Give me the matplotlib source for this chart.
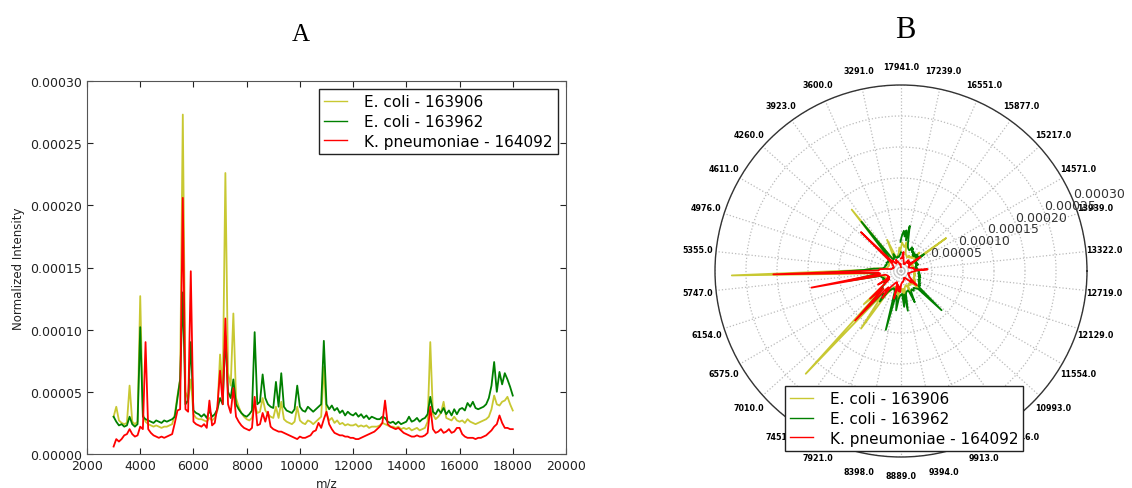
import numpy as np
import matplotlib
matplotlib.use("Agg")
import matplotlib.pyplot as plt
from matplotlib.ticker import FormatStrFormatter, MultipleLocator

# ---------------- data (intensities in units of 1e-5) ----------------
mz = np.arange(3000, 18001, 100)

ecoli_163906 = [
    3.0, 3.8, 2.7, 2.5, 2.4, 2.5, 5.5, 2.6, 2.4, 2.6,
    12.7, 3.2, 2.6, 2.4, 2.3, 2.2, 2.3, 2.2, 2.1, 2.2,
    2.2, 2.3, 2.4, 3.2, 4.7, 6.0, 27.3, 5.0, 4.4, 6.0,
    3.2, 2.9, 2.8, 2.8, 2.7, 2.6, 2.9, 2.7, 2.9, 3.5,
    8.0, 5.0, 22.6, 6.5, 5.5, 11.3, 4.5, 3.8, 3.3, 3.0,
    2.8, 2.7, 2.9, 4.0, 3.3, 3.4, 4.5, 3.5, 3.2, 3.0,
    2.9, 3.8, 2.9, 4.2, 2.8, 2.6, 2.5, 2.4, 2.6, 3.8,
    2.7, 2.5, 2.4, 2.7, 2.6, 2.4, 2.6, 2.8, 3.0, 7.0,
    3.2, 2.7, 2.9, 2.5, 2.7, 2.4, 2.5, 2.3, 2.4, 2.3,
    2.3, 2.4, 2.2, 2.3, 2.2, 2.3, 2.1, 2.2, 2.2, 2.2,
    2.3, 2.5, 2.4, 2.3, 2.2, 2.2, 2.1, 2.2, 2.0, 2.1,
    2.0, 2.1, 1.9, 2.0, 2.1, 1.9, 2.0, 2.1, 2.6, 9.0,
    3.2, 2.8, 3.0, 3.3, 4.2, 2.9, 2.8, 2.7, 3.0, 2.7,
    2.6, 2.7, 2.5, 2.8, 2.6, 2.5, 2.4, 2.5, 2.6, 2.7,
    2.8, 3.0, 3.6, 4.7, 4.0, 3.9, 4.2, 4.3, 4.6, 4.0,
    3.5,
]

ecoli_163962 = [
    3.0, 2.6, 2.3, 2.4, 2.2, 2.3, 3.0, 2.4, 2.2, 2.4,
    10.2, 3.0, 2.8, 2.7, 2.6, 2.5, 2.7, 2.6, 2.5, 2.7,
    2.6, 2.7, 2.8, 3.0, 4.5, 6.0, 13.0, 4.0, 4.3, 9.0,
    3.5, 3.3, 3.2, 3.0, 3.2, 2.9, 3.5, 3.0, 3.2, 3.6,
    4.5, 4.0, 9.5, 5.0, 4.5, 6.0, 4.0, 3.6, 3.3, 3.1,
    3.0, 3.2, 3.5, 9.8, 4.0, 4.2, 6.4, 4.5, 4.0, 3.8,
    3.7, 5.8, 3.8, 6.5, 3.8, 3.5, 3.4, 3.3, 3.6, 5.5,
    3.8, 3.5, 3.4, 3.8, 3.6, 3.4, 3.6, 3.8, 4.0, 9.1,
    4.0, 3.6, 3.9, 3.5, 3.7, 3.3, 3.5, 3.1, 3.4, 3.2,
    3.1, 3.3, 3.0, 3.2, 2.9, 3.1, 2.8, 3.0, 2.9, 2.8,
    2.8, 3.0, 2.9, 2.6, 2.5, 2.6, 2.4, 2.6, 2.4, 2.5,
    2.6, 3.0, 2.6, 2.7, 2.9, 2.6, 2.8, 2.9, 3.2, 4.6,
    3.4, 3.2, 3.6, 3.3, 3.7, 3.2, 3.5, 3.1, 3.6, 3.2,
    3.6, 3.7, 3.5, 4.1, 3.8, 4.2, 3.7, 3.6, 3.7, 3.8,
    4.0, 4.5, 5.5, 7.4, 5.0, 6.6, 5.6, 6.5, 6.0, 5.4,
    4.7,
]

kpn_164092 = [
    0.6, 1.2, 1.0, 1.2, 1.5, 1.6, 2.0, 1.6, 1.4, 1.5,
    2.2, 2.0, 9.0, 2.0, 1.7, 1.5, 1.4, 1.3, 1.4, 1.3,
    1.4, 1.5, 1.6, 2.5, 3.5, 3.6, 20.6, 3.6, 3.4, 14.7,
    2.6, 2.4, 2.3, 2.2, 2.4, 2.1, 4.3, 2.3, 2.5, 3.8,
    6.7, 4.0, 10.9, 4.0, 3.3, 5.3, 3.0, 2.6, 2.3, 2.1,
    2.0, 1.9, 2.1, 4.6, 2.3, 2.4, 3.3, 2.6, 3.4, 2.2,
    2.0, 1.9, 1.8, 1.8, 1.7, 1.6, 1.5, 1.4, 1.3, 1.2,
    1.4, 1.3, 1.3, 1.4, 1.5, 1.8, 1.9, 2.5, 2.1, 2.8,
    3.4, 2.4, 2.0, 1.7, 1.6, 1.5, 1.5, 1.4, 1.4, 1.3,
    1.3, 1.2, 1.2, 1.3, 1.4, 1.5, 1.6, 1.7, 1.8, 2.0,
    2.2, 2.5, 4.3, 2.4, 2.2, 2.1, 2.0, 2.1, 1.9, 1.7,
    1.6, 1.5, 1.4, 1.4, 1.5, 1.4, 1.4, 1.5, 1.7, 3.8,
    2.0, 1.7, 1.8, 2.0, 1.7, 1.8, 2.0, 1.7, 1.8, 2.1,
    2.1, 1.6, 1.4, 1.3, 1.3, 1.3, 1.2, 1.3, 1.3, 1.4,
    1.5, 1.7, 1.9, 2.2, 2.4, 3.1, 2.5, 2.1, 2.1, 2.0,
    2.0,
]

series_labels = ["E. coli - 163906", "E. coli - 163962", "K. pneumoniae - 164092"]

polar_tick_labels = [3291.0, 3600.0, 3923.0, 4260.0, 4611.0, 4976.0, 5355.0,
                     5747.0, 6154.0, 6575.0, 7010.0, 7451.0, 7921.0, 8398.0,
                     8889.0, 9394.0, 9913.0, 10446.0, 10993.0, 11554.0,
                     12129.0, 12719.0, 13322.0, 13939.0, 14571.0, 15217.0,
                     15877.0, 16551.0, 17239.0, 17941.0]
radial_ticks = [0.00005, 0.00010, 0.00015, 0.00020, 0.00025, 0.00030]

# ---------------- style ----------------
colors = ["#c8c832", "#008000", "#ff0000"]
plt.rcParams["font.family"] = ["DejaVu Sans"]

fig = plt.figure(figsize=(11.32, 4.89), dpi=100)

series = [np.array(s) * 1e-5 for s in (ecoli_163906, ecoli_163962, kpn_164092)]

# ---------------- panel A ----------------
W, H = 1132.0, 489.0
axA = fig.add_axes([87 / W, 1 - 455 / H, (566 - 87) / W, (455 - 82) / H])
for s, c, lab in zip(series, colors, series_labels):
    axA.plot(mz, s, color=c, lw=1.3, label=lab)
axA.set_xlim(2000, 20000)
axA.set_ylim(0, 0.0003)
axA.xaxis.set_major_locator(MultipleLocator(2000))
axA.yaxis.set_major_locator(MultipleLocator(0.00005))
axA.yaxis.set_major_formatter(FormatStrFormatter("%.5f"))
axA.tick_params(direction="in", top=True, right=True, length=4, labelsize=9,
                colors="#222222")
for sp in axA.spines.values():
    sp.set_color("#555555")
axA.set_ylabel("Normalized Intensity", fontsize=8.5, color="#222222", labelpad=4)
axA.set_xlabel("m/z", fontsize=8.5, color="#222222", labelpad=3)
legA = axA.legend(loc="upper right", bbox_to_anchor=(558 / W, 1 - 90 / H),
                  bbox_transform=fig.transFigure, borderaxespad=0,
                  fontsize=11, fancybox=False, framealpha=1, edgecolor="#222222",
                  handlelength=1.5, handletextpad=1.1, labelspacing=0.3,
                  borderpad=0.35)
legA.get_frame().set_linewidth(1.0)
for l in legA.get_lines():
    l.set_linewidth(1.0)

fig.text(301 / W, 1 - 35 / H, "A", fontsize=18, family="Liberation Serif",
         ha="center", va="center")

# ---------------- panel B (polar) ----------------
cx, cy, R = 901.0, 272.0, 186.0
axB = fig.add_axes([(cx - R) / W, 1 - (cy + R) / H, 2 * R / W, 2 * R / H],
                   projection="polar")
tick_angles = 102 + 12 * np.arange(len(polar_tick_labels))
theta = np.deg2rad(np.interp(mz, [3000] + polar_tick_labels + [18000],
                             [90] + list(tick_angles) + [451]))
for s, c, lab in zip(series, colors, series_labels):
    axB.plot(theta, s, color=c, lw=1.3, label=lab)
axB.set_xticks(np.deg2rad(np.sort(tick_angles % 360)))
axB.set_xlim(0, 2 * np.pi)
axB.set_ylim(0, 0.0003)
axB.set_xticklabels([])
axB.set_yticks(radial_ticks)
axB.set_yticklabels([])
axB.grid(True, color="#bbbbbb", linestyle=":", linewidth=0.9)
axB.spines["polar"].set_color("#333333")
axB.spines["polar"].set_linewidth(1.0)
axB.tick_params(length=0)
for ang, lab in zip(tick_angles, polar_tick_labels):
    axB.text(np.deg2rad(ang % 360), 0.0003 * 1.1, "%.1f" % lab, ha="center",
             va="center", fontsize=5.8, fontweight="bold", clip_on=False)
for r in radial_ticks:
    axB.text(np.deg2rad(22.5), r, "%.5f" % r, ha="left", va="bottom",
             fontsize=9, color="#333333", clip_on=False)
legB = axB.legend(loc="lower center", bbox_to_anchor=(904 / W, 1 - 452 / H),
                  bbox_transform=fig.transFigure, borderaxespad=0,
                  fontsize=11, fancybox=False, framealpha=1, edgecolor="#222222",
                  handlelength=1.5, handletextpad=1.1, labelspacing=0.3,
                  borderpad=0.35)
legB.get_frame().set_linewidth(1.0)
for l in legB.get_lines():
    l.set_linewidth(1.0)

fig.text(905 / W, 1 - 31 / H, "B", fontsize=22, family="Liberation Serif",
         ha="center", va="center")

fig.savefig("out.png", dpi=100)
